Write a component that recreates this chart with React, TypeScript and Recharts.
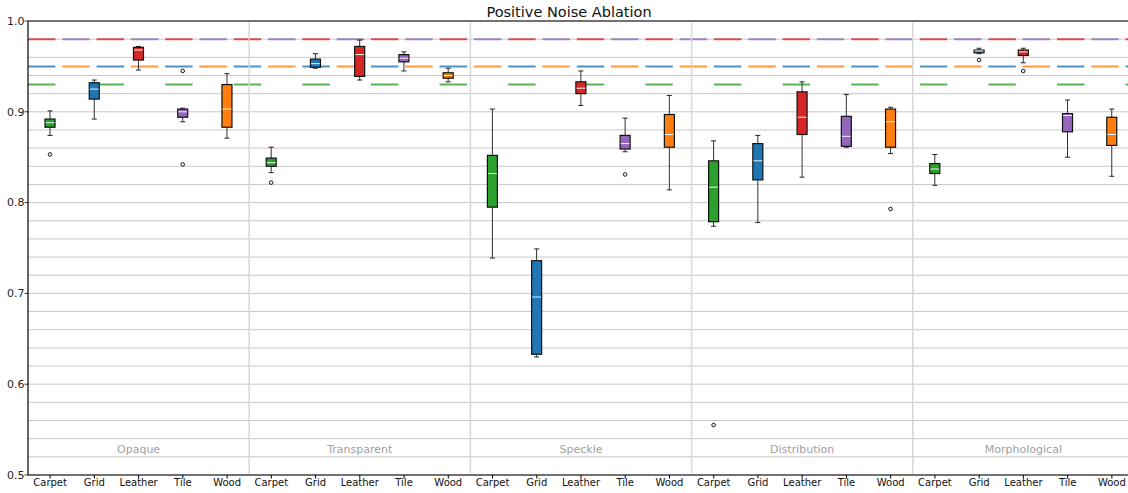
import React from "react";
import {
  ComposedChart,
  Bar,
  XAxis,
  YAxis,
  CartesianGrid,
  ReferenceLine,
  ReferenceDot,
} from "recharts";

const groups = ["Opaque", "Transparent", "Speckle", "Distribution", "Morphological"];
const categories = ["Carpet", "Grid", "Leather", "Tile", "Wood"];
const categoryColors = ["#2ca02c", "#1f77b4", "#d62728", "#9467bd", "#ff7f0e"];
// per-category baseline (dashed lines)
const baselines = [0.93, 0.95, 0.98, 0.98, 0.95];

// box stats, group-major: Opaque, Transparent, Speckle, Distribution, Morphological
const whiskerLow = [
  0.874, 0.892, 0.946, 0.889, 0.871,
  0.833, 0.948, 0.935, 0.945, 0.933,
  0.739, 0.63, 0.907, 0.856, 0.814,
  0.774, 0.778, 0.828, 0.861, 0.854,
  0.819, 0.964, 0.954, 0.85, 0.829,
];
const q1 = [
  0.883, 0.914, 0.957, 0.894, 0.883,
  0.84, 0.949, 0.939, 0.955, 0.937,
  0.795, 0.633, 0.92, 0.859, 0.861,
  0.779, 0.825, 0.875, 0.862, 0.861,
  0.832, 0.965, 0.962, 0.878, 0.863,
];
const median = [
  0.888, 0.925, 0.968, 0.9, 0.903,
  0.844, 0.953, 0.963, 0.959, 0.94,
  0.832, 0.696, 0.926, 0.865, 0.875,
  0.817, 0.846, 0.894, 0.873, 0.889,
  0.837, 0.967, 0.966, 0.896, 0.875,
];
const q3 = [
  0.892, 0.932, 0.971, 0.903, 0.93,
  0.849, 0.958, 0.972, 0.963, 0.943,
  0.852, 0.736, 0.933, 0.874, 0.897,
  0.846, 0.865, 0.922, 0.895, 0.903,
  0.843, 0.968, 0.968, 0.898, 0.894,
];
const whiskerHigh = [
  0.901, 0.935, 0.972, 0.904, 0.942,
  0.861, 0.964, 0.979, 0.966, 0.948,
  0.903, 0.749, 0.945, 0.893, 0.918,
  0.868, 0.874, 0.933, 0.919, 0.905,
  0.853, 0.97, 0.97, 0.913, 0.903,
];
const outliers: number[][] = [
  [0.853], [], [], [0.945, 0.842], [],
  [0.822], [], [], [], [],
  [], [], [], [0.831], [],
  [0.555], [], [], [], [0.793],
  [], [0.957], [0.945], [], [],
];

const yTicks = [
  0.5, 0.52, 0.54, 0.56, 0.58, 0.6, 0.62, 0.64, 0.66, 0.68, 0.7, 0.72, 0.74,
  0.76, 0.78, 0.8, 0.82, 0.84, 0.86, 0.88, 0.9, 0.92, 0.94, 0.96, 0.98, 1.0,
];

const data = groups.flatMap((g, gi) =>
  categories.map((c, ci) => {
    const i = gi * 5 + ci;
    return {
      id: `${g}-${c}`,
      color: categoryColors[ci],
      lo: whiskerLow[i],
      q1: q1[i],
      med: median[i],
      q3: q3[i],
      hi: whiskerHigh[i],
      outliers: outliers[i],
      span: [whiskerLow[i], whiskerHigh[i]],
    };
  })
);

// tile & wood dashes are shifted half a period so they interleave
const dashShifted = [false, false, false, true, true];

function BoxShape(props: any) {
  const { x, y, width, height, payload } = props;
  const top = Math.min(y, y + height);
  const h = Math.abs(height);
  const { lo, hi } = payload;
  const py = (v: number) => top + ((hi - v) / (hi - lo)) * h;
  const cx = x + width / 2;
  const bw = 10;
  const cap = 2.5;
  return (
    <g>
      <line x1={cx} x2={cx} y1={py(hi)} y2={py(payload.q3)} stroke="#333" strokeWidth={1} />
      <line x1={cx} x2={cx} y1={py(payload.q1)} y2={py(lo)} stroke="#333" strokeWidth={1} />
      <line x1={cx - cap} x2={cx + cap} y1={py(hi)} y2={py(hi)} stroke="#222" strokeWidth={1} />
      <line x1={cx - cap} x2={cx + cap} y1={py(lo)} y2={py(lo)} stroke="#222" strokeWidth={1} />
      <rect
        x={cx - bw / 2}
        y={py(payload.q3)}
        width={bw}
        height={Math.max(py(payload.q1) - py(payload.q3), 0.5)}
        fill={payload.color}
        stroke="#111"
        strokeWidth={1.2}
      />
      <line
        x1={cx - bw / 2 + 0.6}
        x2={cx + bw / 2 - 0.6}
        y1={py(payload.med)}
        y2={py(payload.med)}
        stroke="#f2f2f2"
        strokeWidth={1}
      />
      {payload.outliers.map((o: number, k: number) => (
        <circle key={k} cx={cx} cy={py(o)} r={1.8} fill="none" stroke="#111" strokeWidth={1} />
      ))}
    </g>
  );
}

function YTick(props: any) {
  const { x, y, payload } = props;
  const v = payload.value as number;
  if (Math.round(v * 100) % 10 !== 0) return <g />;
  return (
    <g>
      <line x1={x} x2={x + 3.5} y1={y} y2={y} stroke="#000" strokeWidth={0.8} />
      <text x={x} y={y} dy="0.35em" textAnchor="end" fontSize={11} fill="#222">
        {v.toFixed(1)}
      </text>
    </g>
  );
}

export default function App() {
  return (
    <div
      style={{
        position: "absolute",
        left: 0,
        top: 0,
        width: 1128,
        height: 493,
        overflow: "hidden",
        background: "#fff",
        fontFamily: "DejaVu Sans",
      }}
    >
      <div
        style={{
          position: "absolute",
          left: 0,
          top: 4,
          width: 1138,
          textAlign: "center",
          fontSize: 14.5,
          lineHeight: "17px",
          color: "#111",
        }}
      >
        Positive Noise Ablation
      </div>
      <ComposedChart
        width={1140}
        height={493}
        data={data}
        margin={{ top: 21, right: 6, bottom: 0, left: 0 }}
      >
        <CartesianGrid horizontal vertical={false} stroke="#c8c8c8" strokeWidth={1} />
        <XAxis
          dataKey="id"
          interval={0}
          height={18}
          tickSize={3.5}
          tickMargin={0}
          tickFormatter={(v: string) => v.split("-")[1]}
          tick={{ fontSize: 10, fill: "#111" }}
          tickLine={{ stroke: "#000" }}
          axisLine={{ stroke: "#000", strokeWidth: 1.2 }}
        />
        <YAxis
          type="number"
          domain={[0.5, 1.0]}
          ticks={yTicks}
          interval={0}
          width={28}
          tickSize={3.5}
          tickMargin={0}
          tickLine={false}
          tick={<YTick />}
          axisLine={{ stroke: "#000", strokeWidth: 1.2 }}
          allowDataOverflow
        />
        {groups.slice(0, 4).map((g) => (
          <ReferenceLine
            key={`div-${g}`}
            x={`${g}-Wood`}
            position="end"
            stroke="#d8d8d8"
            strokeWidth={1.5}
          />
        ))}
        {categories.map((c, ci) => (
          <ReferenceLine
            key={`base-${c}`}
            y={baselines[ci]}
            stroke={categoryColors[ci]}
            strokeOpacity={0.8}
            strokeWidth={2}
            strokeDasharray={dashShifted[ci] ? "0 34.3 27.4 6.9" : "27.4 41.2"}
            zIndex={250}
          />
        ))}
        <ReferenceLine y={1.0} stroke="#000" strokeWidth={1.2} />
        {groups.map((g) => (
          <ReferenceDot
            key={`lab-${g}`}
            x={`${g}-Leather`}
            y={0.528}
            r={0}
            fill="none"
            stroke="none"
            label={{ value: g, position: "center", fill: "#a0a0a0", fontSize: 11 }}
          />
        ))}
        <Bar
          dataKey="span"
          barSize={10}
          shape={<BoxShape />}
          isAnimationActive={false}
          zIndex={300}
        />
      </ComposedChart>
    </div>
  );
}
